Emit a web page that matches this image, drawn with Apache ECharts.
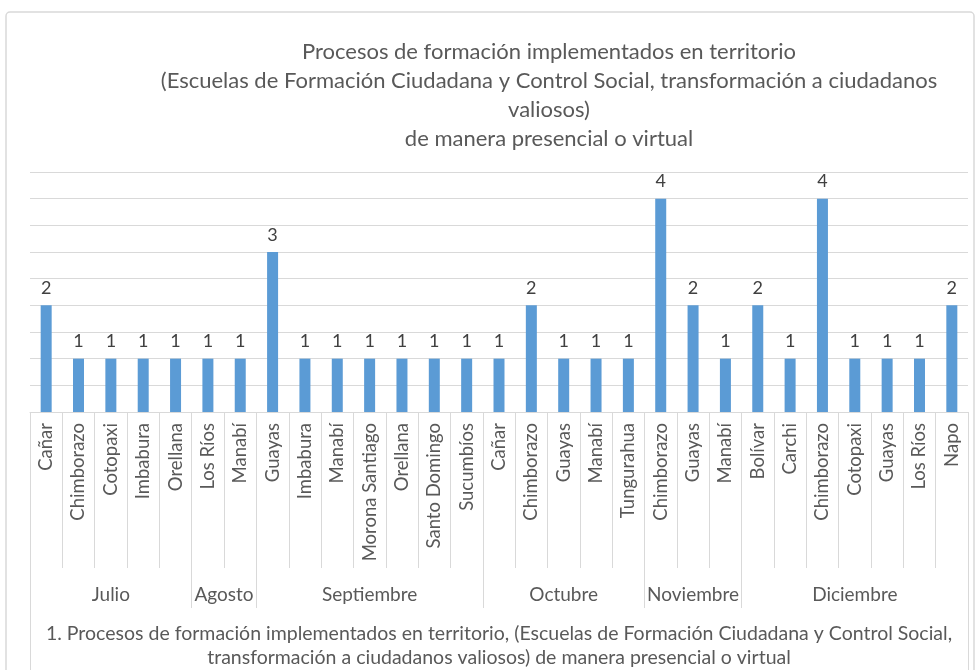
<!DOCTYPE html>
<html>
<head>
<meta charset="utf-8">
<script src="https://cdn.jsdelivr.net/npm/echarts@6/dist/echarts.min.js"></script>
<style>
  html, body { margin: 0; padding: 0; background: #fff; }
  #chart { width: 980px; height: 670px; }
</style>
</head>
<body>
<div id="chart"></div>
<script>
// provincias (una barra por provincia y mes)
const provinces = [
    'Cañar', 'Chimborazo', 'Cotopaxi', 'Imbabura', 'Orellana',
    'Los Ríos', 'Manabí',
    'Guayas', 'Imbabura', 'Manabí', 'Morona Santiago', 'Orellana', 'Santo Domingo', 'Sucumbíos',
    'Cañar', 'Chimborazo', 'Guayas', 'Manabí', 'Tungurahua',
    'Chimborazo', 'Guayas', 'Manabí',
    'Bolívar', 'Carchi', 'Chimborazo', 'Cotopaxi', 'Guayas', 'Los Ríos', 'Napo'
];
const values = [
    2, 1, 1, 1, 1,
    1, 1,
    3, 1, 1, 1, 1, 1, 1,
    1, 2, 1, 1, 1,
    4, 2, 1,
    2, 1, 4, 1, 1, 1, 2
];
// meses y cuantas provincias tiene cada uno
const months = ['Julio', 'Agosto', 'Septiembre', 'Octubre', 'Noviembre', 'Diciembre'];
const monthSizes = [5, 2, 7, 5, 3, 7];

const titleText = 'Procesos de formación implementados en territorio\n' +
    '(Escuelas de Formación Ciudadana y Control Social, transformación a ciudadanos\n' +
    'valiosos)\n' +
    'de manera presencial o virtual';
const footerText = '1. Procesos de formación implementados en territorio, (Escuelas de Formación Ciudadana y Control Social,\n' +
    'transformación a ciudadanos valiosos) de manera presencial o virtual';

// inicio de cada mes y su centro (en unidades de categoria)
let monthStarts = [];
let monthCenters = {};
let acc = 0;
monthSizes.forEach(function (n, i) {
    monthStarts.push(acc);
    monthCenters[(acc + n / 2).toFixed(1)] = months[i];
    acc += n;
});

const FONT = 'Lato';
const GRAY = '#d9d9d9';
const TXT = '#595959';

let mychart = echarts.init(document.getElementById('chart'));
mychart.setOption({
    animation: false,
    title: {
        text: titleText,
        left: 544,
        top: 32,
        textAlign: 'center',
        textStyle: {
            fontFamily: FONT,
            fontSize: 22,
            fontWeight: 'normal',
            color: TXT,
            lineHeight: 29
        }
    },
    graphic: [{
        type: 'rect',
        shape: { x: 6, y: 12, width: 968, height: 700, r: 4 },
        style: { fill: 'none', stroke: GRAY, lineWidth: 1.5 },
        silent: true
    }],
    grid: {
        left: 30,
        right: 12,
        top: 172,
        bottom: 258,
        outerBoundsMode: 'none'
    },
    xAxis: [
        {
            type: 'category',
            data: provinces,
            axisLine: { lineStyle: { color: GRAY } },
            axisTick: { show: true, length: 156, lineStyle: { color: GRAY } },
            axisLabel: {
                interval: 0,
                rotate: 90,
                margin: 11,
                fontFamily: FONT,
                fontSize: 18.5,
                color: TXT
            }
        },
        {
            // separadores de mes
            type: 'category',
            data: provinces,
            position: 'bottom',
            axisLine: { show: false },
            axisLabel: { show: false },
            axisTick: {
                show: true,
                length: 196,
                interval: function (index) { return monthStarts.indexOf(index) >= 0; },
                lineStyle: { color: GRAY }
            }
        },
        {
            // bordes exteriores
            type: 'category',
            data: provinces,
            position: 'bottom',
            axisLine: { show: false },
            axisLabel: { show: false },
            axisTick: {
                show: true,
                length: 270,
                interval: function (index) { return index === 0; },
                lineStyle: { color: GRAY }
            }
        },
        {
            // nombres de los meses + titulo del eje
            type: 'value',
            position: 'bottom',
            min: 0,
            max: provinces.length,
            interval: 0.5,
            axisLine: { show: false },
            axisTick: { show: false },
            splitLine: { show: false },
            axisLabel: {
                margin: 173,
                fontFamily: FONT,
                fontSize: 19,
                color: TXT,
                formatter: function (v) { return monthCenters[v.toFixed(1)] || ''; }
            },
            name: footerText,
            nameLocation: 'middle',
            nameGap: 210,
            nameMoveOverlap: false,
            nameTextStyle: {
                fontFamily: FONT,
                fontSize: 19.5,
                color: TXT,
                lineHeight: 24
            }
        }
    ],
    yAxis: {
        type: 'value',
        min: 0,
        max: 4.5,
        interval: 0.5,
        axisLabel: { show: false },
        axisLine: { show: false },
        axisTick: { show: false },
        splitLine: { lineStyle: { color: GRAY } }
    },
    series: [
        {
            type: 'bar',
            data: values,
            xAxisIndex: 0,
            barWidth: 11,
            itemStyle: { color: '#5b9bd5' },
            label: {
                show: true,
                position: 'top',
                distance: 8,
                fontFamily: FONT,
                fontSize: 18,
                color: '#404040'
            }
        }
    ]
})
</script>
</body>
</html>
